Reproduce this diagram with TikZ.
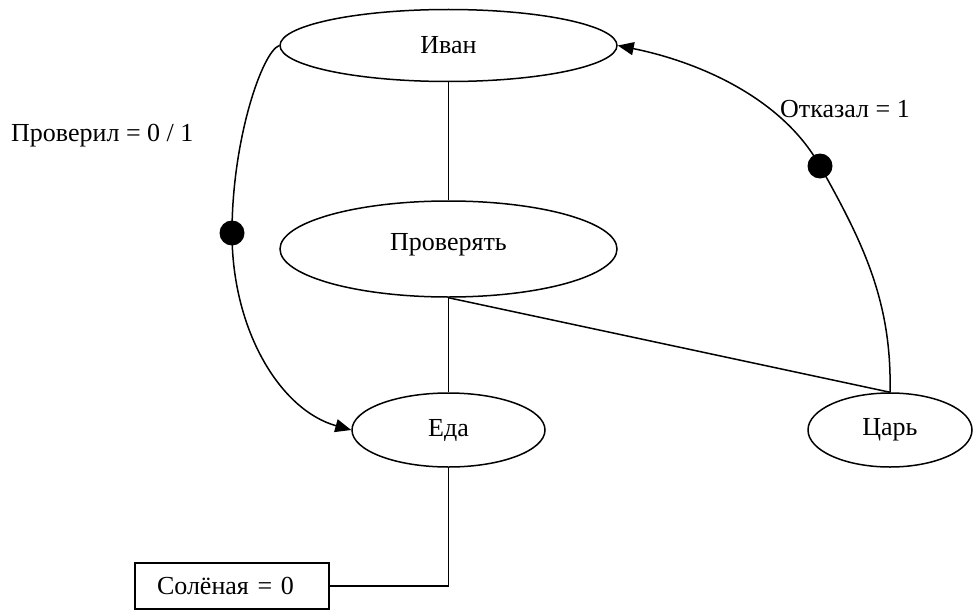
\documentclass[tikz,border=0pt]{standalone}
\usepackage{fontspec}
\setmainfont{Liberation Serif}
\usetikzlibrary{shapes.geometric,arrows.meta}
\begin{document}
\begin{tikzpicture}[x=1pt,y=-1pt,
  every node/.style={font=\fontsize{26}{30}\selectfont},
  oval/.style={draw, ellipse, line width=1.5pt, inner sep=0pt},
  conn/.style={draw, line width=1.5pt},
  arr/.style={conn, -{Triangle[length=16pt,width=13pt]}},
  dotmark/.style={circle, fill=black, inner sep=0pt, minimum size=25pt},
  lbl/.style={anchor=base west, inner sep=0pt}]
\useasboundingbox (0,0) rectangle (973,610);
\node[oval, minimum width=337pt, minimum height=72pt] (ivan) at (448.5,45.5) {Иван};
\node[oval, minimum width=337pt, minimum height=96pt, text height=11pt, text depth=9pt] (prov) at (448.5,249) {Проверять};
\node[oval, minimum width=193pt, minimum height=74pt] (eda) at (448.5,430) {Еда};
\node[oval, minimum width=164pt, minimum height=74pt] (tsar) at (890,430) {Царь};
\node[draw, line width=1.5pt, rectangle, minimum width=194pt, minimum height=46pt,
      text width=150pt, align=left, inner xsep=22pt, inner ysep=0pt] (sol) at (232,586) {Солёная = 0};
\coordinate (d1) at (232,233);
\coordinate (d2) at (820,166);
\node[lbl] (l1) at (11,141) {Проверил = 0 / 1};
\node[lbl] (l2) at (780,117) {Отказал = 1};
\draw[conn] (ivan.south) -- (prov.north);
\draw[conn] (prov.south) -- (eda.north);
\draw[conn] (prov.south) -- (tsar.north);
\draw[conn] (eda.south) |- (sol.east);
\draw[arr] (ivan.west) .. controls (262,52) and (232,140) .. (d1)
  .. controls (232,330) and (280,410) .. (eda.west);
\draw[arr] (tsar.north) .. controls (892,303) and (864,244) .. (d2)
  .. controls (781,96) and (695,61) .. (ivan.east);
\node[dotmark] (dot1) at (d1) {};
\node[dotmark] (dot2) at (d2) {};
\end{tikzpicture}
\end{document}
